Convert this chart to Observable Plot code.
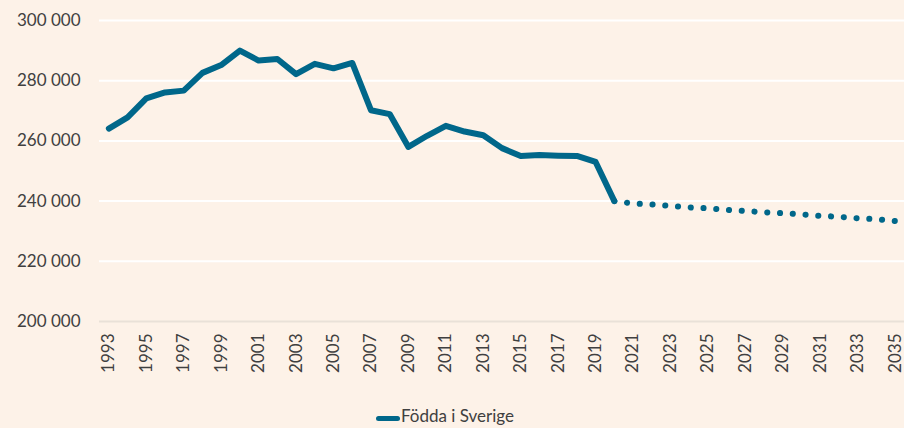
<!DOCTYPE html>
<html>
<head>
<meta charset="utf-8">
<script src="https://cdn.jsdelivr.net/npm/d3@7"></script>
<script src="https://cdn.jsdelivr.net/npm/@observablehq/plot@0.6"></script>
<style>
  html, body { margin: 0; padding: 0; background: #fdf2e8; }
  body { width: 904px; height: 428px; overflow: hidden; font-family: Lato, "Open Sans", sans-serif; color: #404040; }
  #legend { position: relative; height: 23px; }
  #legend .swatch { position: absolute; left: 376px; top: 11px; width: 24px; height: 5px; border-radius: 3px; background: #00678a; }
  #legend .label { position: absolute; left: 401px; top: 1px; font-size: 17px; line-height: 20px; color: #404040; }
</style>
</head>
<body>
<div id="chart"></div>
<div id="legend"><span class="swatch"></span><span class="label">Födda i Sverige</span></div>
<script>
const seriesName = "Födda i Sverige";
const historyYears = [1993,1994,1995,1996,1997,1998,1999,2000,2001,2002,2003,2004,2005,2006,2007,2008,2009,2010,2011,2012,2013,2014,2015,2016,2017,2018,2019,2020];
const historyValues = [264100,267800,274100,276100,276700,282600,285200,290000,286700,287200,282200,285600,284100,285900,270200,268900,258000,261700,265000,263100,261900,257600,255000,255300,255100,255000,253000,240000];
const forecastYears = [2020,2021,2022,2023,2024,2025,2026,2027,2028,2029,2030,2031,2032,2033,2034,2035];
const forecastValues = [240000,239200,238900,238400,237900,237600,237100,236700,236300,236000,235600,235100,234800,234300,234000,233400];
const yTicks = [200000,220000,240000,260000,280000,300000];
const allYears = d3.range(1993, 2036);
const xTickYears = allYears.filter(y => (y - 1993) % 2 === 0);

const history = historyYears.map((y, i) => ({year: y, value: historyValues[i]}));
const forecast = forecastYears.map((y, i) => ({year: y, value: forecastValues[i]}));
const fmt = d => d3.format(",")(d).replace(/,/g, " ");
const lineColor = "#00678a";

const chart = Plot.plot({
  width: 904,
  height: 405,
  marginTop: 20,
  marginBottom: 84,
  marginLeft: 99,
  marginRight: 0,
  style: {background: "#fdf2e8", fontFamily: "Lato, 'Open Sans', sans-serif", color: "#404040"},
  x: {type: "point", domain: allYears, padding: 0.5, label: null},
  y: {domain: [200000, 300000], label: null},
  marks: [
    Plot.ruleY(yTicks.filter(v => v > 200000), {stroke: "#ffffff", strokeWidth: 2}),
    Plot.ruleY([200000], {stroke: "#e9e1d8", strokeWidth: 2}),
    Plot.axisY({ticks: yTicks, tickFormat: fmt, tickSize: 0, tickPadding: 19, fontSize: 17, fill: "#404040", label: null}),
    Plot.axisX({ticks: xTickYears, tickFormat: d => String(d), tickSize: 0, tickPadding: 12, tickRotate: -90, fontSize: 17, fill: "#404040", label: null}),
    Plot.line(forecast, {x: "year", y: "value", stroke: lineColor, strokeWidth: 6, strokeLinecap: "round", strokeDasharray: "0.1 12.68"}),
    Plot.line(history, {x: "year", y: "value", stroke: lineColor, strokeWidth: 6, strokeLinecap: "round", strokeLinejoin: "round"})
  ]
});
document.getElementById("chart").appendChild(chart);
</script>
</body>
</html>
